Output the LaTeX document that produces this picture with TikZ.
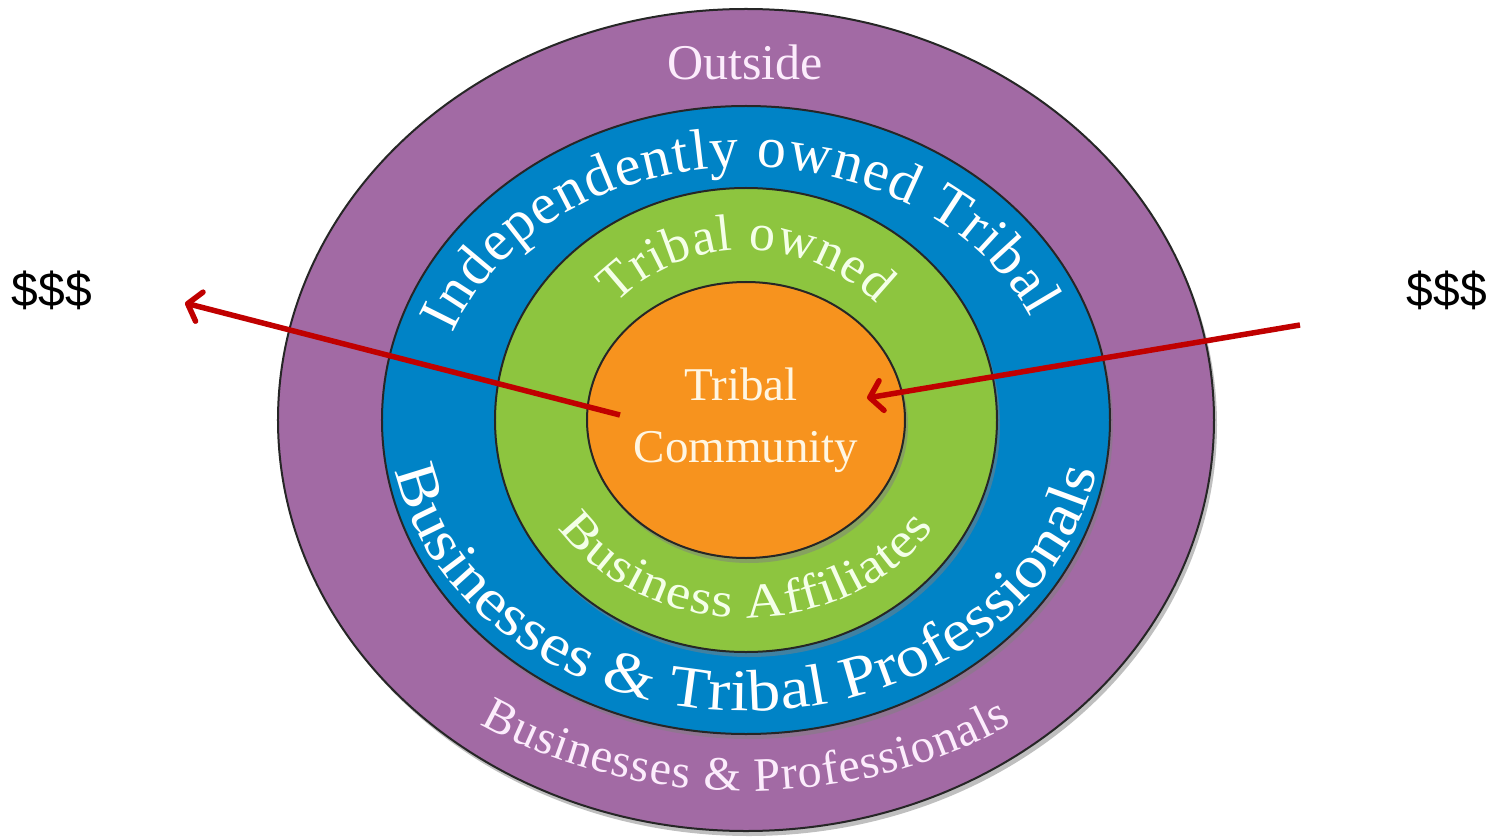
\documentclass[tikz,border=0pt]{standalone}
\usepackage{fontspec}
\setmainfont{Liberation Serif}
\newfontfamily\wideserif[FakeStretch=1.12]{Liberation Serif}
\newfontfamily\cashfont{Liberation Sans}
\usetikzlibrary{decorations.text, shadows, arrows.meta}

\definecolor{outsidering}{RGB}{162,106,164}
\definecolor{independentring}{RGB}{0,131,198}
\definecolor{ownedring}{RGB}{141,197,63}
\definecolor{communitycore}{RGB}{247,147,30}
\definecolor{cashred}{RGB}{192,0,0}
\definecolor{pinkwhite}{RGB}{252,236,252}
\definecolor{greenwhite}{RGB}{244,255,232}
\definecolor{creamwhite}{RGB}{255,246,226}

\begin{document}
\begin{tikzpicture}[x=1pt, y=1pt,
   ring/.style={draw=black!85, line width=2pt,
      drop shadow={shadow xshift=3pt, shadow yshift=-5pt, opacity=.5}},
   arc label/.style={decorate, decoration={text along path, text align={fit to path}, text color=#1}},
   money/.style={font=\cashfont\fontsize{48}{48}\selectfont},
   flow/.style={draw=cashred, line width=5.5pt, -{Straight Barb[length=12pt, width=30pt, round]}}]
   \useasboundingbox (-746,-418) rectangle (747,420);
   \fill[white] (-746,-418) rectangle (747,420);

   % rings, outside in
   \draw[ring, fill=outsidering] (0,0) ellipse [x radius=468, y radius=411];
   \draw[ring, fill=independentring] (0,0) ellipse [x radius=364, y radius=314];
   \draw[ring, fill=ownedring] (0,0) ellipse [x radius=251, y radius=232];
   \draw[ring, fill=communitycore] (0,0) ellipse [x radius=159, y radius=138];

   % ring labels
   \node[text=pinkwhite, font=\fontsize{50}{50}\selectfont, anchor=base] (outside) at (-1,340) {Outside};
   \path[arc label=white, decoration={text={|\fontsize{58}{58}\selectfont|Independently owned Tribal}}]
      (160:312 and 253) arc[start angle=160, end angle=24, x radius=312, y radius=253];
   \path[arc label=greenwhite, decoration={text={|\fontsize{52}{52}\selectfont|Tribal owned}}]
      (137:178 and 170) arc[start angle=137, end angle=43, x radius=178, y radius=170];
   \path[arc label=greenwhite, decoration={text={|\wideserif\fontsize{49}{49}\selectfont|Business Affiliates}}]
      (213:224 and 198) arc[start angle=213, end angle=327, x radius=224, y radius=198];
   \path[arc label=white, decoration={text={|\wideserif\fontsize{59}{59}\selectfont|Businesses {\&} Tribal Professionals}}]
      (190:356 and 291) arc[start angle=190, end angle=350, x radius=356, y radius=291];
   \path[arc label=pinkwhite, decoration={text={|\fontsize{48}{48}\selectfont|Businesses {\&} Professionals}}]
      (235:464 and 371) arc[start angle=235, end angle=305, x radius=464, y radius=371];
   \node[text=creamwhite, font=\fontsize{47}{47}\selectfont, anchor=base] (tribal) at (-5,20) {Tribal};
   \node[text=creamwhite, font=\fontsize{47}{47}\selectfont, anchor=base] (community) at (0,-42) {Community};

   % money in and out
   \node[money] (cashout) at (-694,130) {\$\$\$};
   \node[money] (cashin) at (701,130) {\$\$\$};
   \coordinate (outstart) at (-126,5);
   \coordinate (outtip) at (-561,117);
   \coordinate (instart) at (554,95);
   \coordinate (intip) at (121,22);
   \draw[flow] (outstart) -- (outtip);
   \draw[flow] (instart) -- (intip);
\end{tikzpicture}
\end{document}
